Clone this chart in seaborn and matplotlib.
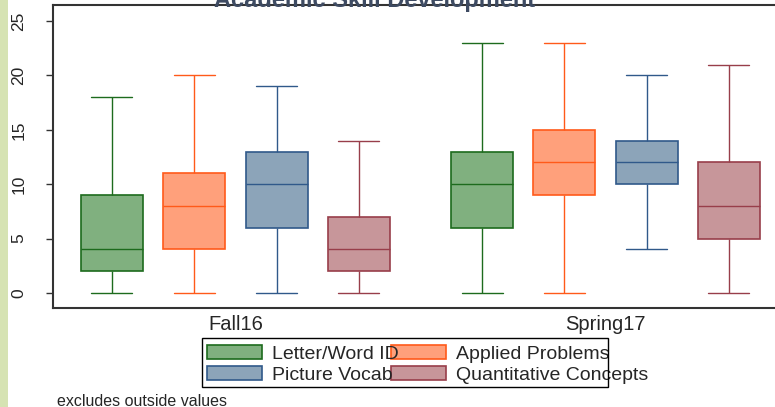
import numpy as np
import pandas as pd
import matplotlib
matplotlib.use("Agg")
import matplotlib.pyplot as plt
from matplotlib.patches import Rectangle, Patch
import seaborn as sns

# ---------------- data (five-number summaries) -------------
categories = ["Fall16", "Spring17"]
tests = ["Letter/Word ID", "Applied Problems", "Picture Vocab", "Quantitative Concepts"]
stat_names = ["min", "q1", "median", "q3", "max"]

letter_word_fall16 = [0, 2, 4, 9, 18]
letter_word_spring17 = [0, 6, 10, 13, 23]
applied_fall16 = [0, 4, 8, 11, 20]
applied_spring17 = [0, 9, 12, 15, 23]
vocab_fall16 = [0, 6, 10, 13, 19]
vocab_spring17 = [4, 10, 12, 14, 20]
quant_fall16 = [0, 2, 4, 7, 14]
quant_spring17 = [0, 5, 8, 12, 21]

title = "Academic Skill Development"
note = "excludes outside values"

fills = ["#80b07f", "#ffa07b", "#8ca4b9", "#c7969a"]
edges = ["#1d6b1d", "#ff5a1a", "#30598a", "#983e4a"]

summaries = {
    ("Letter/Word ID", "Fall16"): letter_word_fall16,
    ("Letter/Word ID", "Spring17"): letter_word_spring17,
    ("Applied Problems", "Fall16"): applied_fall16,
    ("Applied Problems", "Spring17"): applied_spring17,
    ("Picture Vocab", "Fall16"): vocab_fall16,
    ("Picture Vocab", "Spring17"): vocab_spring17,
    ("Quantitative Concepts", "Fall16"): quant_fall16,
    ("Quantitative Concepts", "Spring17"): quant_spring17,
}
rows = []
for (test, wave), vals in summaries.items():
    for v in vals:
        rows.append({"test": test, "wave": wave, "score": v})
df = pd.DataFrame(rows)

# ---------------- figure ----------------
sns.set_style("white")
plt.rcParams["font.family"] = ["Liberation Sans", "DejaVu Sans"]

W, H = 775, 407
fig = plt.figure(figsize=(W / 100, H / 100), dpi=100)
fig.patches.append(Rectangle((0, 0), 8 / W, 1, transform=fig.transFigure,
                             facecolor="#d6e3b3", edgecolor="none", zorder=0))

ax = fig.add_axes([53 / W, (H - 308) / H, (W - 53) / W, (308 - 5) / H])

sns.boxplot(data=df, x="wave", y="score", hue="test", order=categories,
            hue_order=tests, palette=fills, saturation=1, width=0.89, gap=0.247,
            whis=(0, 100), linewidth=1.0, fliersize=0, legend=False, ax=ax)

cap_half = 0.5 * 41 / 370  # cap length relative to axis scale
for cont, col in zip(ax.containers, edges):
    try:
        for b in cont.boxes:
            b.set_edgecolor(col)
            b.set_linewidth(1.2)
        for ln in list(cont.medians) + list(cont.whiskers):
            ln.set_color(col)
        for ln in cont.caps:
            ln.set_color(col)
            xd = np.asarray(ln.get_xdata(), dtype=float)
            c = xd.mean()
            ln.set_xdata([c - cap_half, c + cap_half])
    except AttributeError:
        pass

ax.set_xlim(-0.4932, 1.4581)
ax.set_ylim(-1.38, 26.47)
ax.set_yticks([0, 5, 10, 15, 20, 25])
ax.set_xlabel("")
ax.set_ylabel("")
ax.tick_params(axis="y", left=True, length=5, width=1, pad=14, labelsize=12.5,
               labelrotation=90, direction="out", color="#333333")
for t in ax.get_yticklabels():
    t.set_va("center")
ax.tick_params(axis="x", length=0, pad=5, labelsize=14.5)

for s in ["left", "top", "bottom"]:
    ax.spines[s].set_visible(True)
    ax.spines[s].set_linewidth(1.5)
    ax.spines[s].set_color("#333333")
ax.spines["right"].set_visible(False)

# title (partly clipped at the top, as in the reference)
fig.text(375 / W, (H - 7) / H, title, ha="center", va="baseline",
         fontsize=17, fontweight="bold", color="#3e4b62")

# legend: two stacked single-column legends inside a frame
fs = 14
fs_px = fs * 100 / 72
handles = [Patch(facecolor=f, edgecolor=e, linewidth=1.2) for f, e in zip(fills, edges)]
common = dict(frameon=False, fontsize=fs, borderpad=0, borderaxespad=0,
              handlelength=55 / fs_px, handleheight=14 / fs_px,
              handletextpad=10 / fs_px, labelspacing=0.2, loc="center left")
leg2 = fig.legend([handles[1], handles[3]], [tests[1], tests[3]],
                  bbox_to_anchor=(391 / W, (H - 364.5) / H), **common)
leg2.set_zorder(5)
leg1 = fig.legend([handles[0], handles[2]], [tests[0], tests[2]],
                  bbox_to_anchor=(207 / W, (H - 364.5) / H), **common)
leg1.set_zorder(6)
fig.patches.append(Rectangle((202 / W, (H - 387) / H), 406 / W, 49 / H,
                             transform=fig.transFigure, facecolor="none",
                             edgecolor="black", linewidth=1.0, zorder=7))

fig.text(57 / W, (H - 401) / H, note, ha="left", va="center", fontsize=11.5)

fig.savefig("out.png", dpi=100)
